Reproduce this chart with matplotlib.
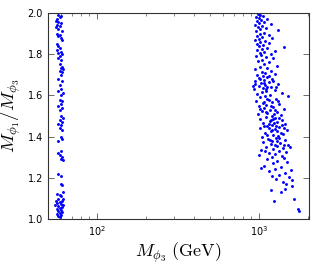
import matplotlib
matplotlib.use("Agg")
import matplotlib.pyplot as plt
from matplotlib.ticker import LogLocator, FixedLocator

# Left cluster (M_phi3 in GeV, ratio)
left_pts = [
    (58,1.99),(60,1.985),(59,1.98),(57,1.97),(56,1.96),(58,1.955),(60,1.95),(57,1.94),(59,1.935),(56,1.93),
    (58,1.92),(61,1.91),(57,1.90),(59,1.895),(58,1.89),(60,1.88),(61,1.87),(57,1.85),(58,1.84),(59,1.83),
    (57,1.82),(60,1.81),(58,1.805),(61,1.80),(59,1.79),(58,1.78),(60,1.77),(59,1.75),(61,1.74),(60,1.735),
    (62,1.73),(59,1.72),(61,1.715),(60,1.70),(58,1.68),(61,1.67),(59,1.65),(60,1.63),(58,1.62),(62,1.61),
    (60,1.60),(59,1.58),(61,1.575),(60,1.56),(58,1.55),(61,1.54),(59,1.53),(60,1.50),(62,1.49),(59,1.48),
    (61,1.47),(58,1.46),(60,1.455),(59,1.44),(61,1.43),(60,1.40),(61,1.39),(58,1.38),(60,1.33),(58,1.32),
    (59,1.31),(61,1.30),(60,1.29),(62,1.285),(58,1.22),(60,1.21),(60,1.17),(61,1.165),(62,1.13),(57,1.12),
    (59,1.115),(60,1.11),(62,1.10),(58,1.10),(56,1.09),(61,1.09),(59,1.085),(57,1.08),(60,1.075),(62,1.07),
    (55,1.07),(58,1.065),(61,1.06),(59,1.055),(57,1.05),(60,1.045),(58,1.04),(61,1.035),(59,1.03),(57,1.025),
    (60,1.02),(58,1.015),(59,1.01),
]

# Right cluster
right_pts = [
    (985,1.995),(1010,1.99),(1060,1.985),(960,1.98),(1000,1.975),(1120,1.97),(1030,1.965),(970,1.96),
    (1080,1.955),(1000,1.95),(1180,1.945),(950,1.94),(1040,1.935),(990,1.93),(1100,1.925),(1010,1.92),
    (1310,1.917),(960,1.91),(1070,1.905),(1020,1.90),(1150,1.895),(980,1.89),(1050,1.885),(1200,1.88),
    (1000,1.875),
    (950,1.87),(1090,1.865),(1020,1.86),(1150,1.855),(980,1.85),(1060,1.845),(1000,1.84),(1430,1.835),
    (1120,1.83),(1040,1.825),(970,1.82),(1250,1.815),(1080,1.81),(1010,1.805),(1180,1.80),
    (1030,1.795),(960,1.79),(1100,1.785),(1230,1.78),(1050,1.77),(990,1.765),(1150,1.76),(1070,1.75),
    (1300,1.745),(1010,1.74),(1120,1.735),(950,1.73),(1190,1.72),(1040,1.715),(1090,1.71),(1260,1.705),
    (980,1.70),
    (1060,1.695),(1130,1.69),(1000,1.685),(1210,1.68),(1080,1.675),(940,1.67),(1150,1.665),(1030,1.66),
    (1320,1.655),(1090,1.65),(1000,1.645),(1180,1.64),(1060,1.635),(930,1.63),(1250,1.625),(1110,1.62),
    (1040,1.615),(1380,1.61),(980,1.605),(1170,1.60),(1070,1.66),(1230,1.67),(1120,1.64),(950,1.655),
    (1010,1.68),(1100,1.63),(1160,1.695),(920,1.645),(1280,1.64),
    (1510,1.597),(1090,1.595),(1020,1.59),(1270,1.585),(1150,1.58),(960,1.575),(1200,1.57),(1060,1.565),
    (1340,1.56),(1110,1.555),(1000,1.55),(1230,1.545),(1080,1.54),(1420,1.535),(1170,1.53),(1040,1.525),
    (1290,1.52),(1130,1.515),(990,1.51),(1360,1.505),(1210,1.50),(1070,1.57),(1180,1.55),(1260,1.53),
    (1130,1.585),(1020,1.535),(1310,1.575),(1240,1.51),(1100,1.52),
    (1100,1.495),(1250,1.49),(1020,1.485),(1380,1.48),(1170,1.475),(1300,1.47),(1060,1.465),(1450,1.46),
    (1200,1.455),(1130,1.45),(1340,1.445),(1010,1.44),(1260,1.435),(1500,1.43),(1180,1.425),(1090,1.42),
    (1400,1.415),(1230,1.41),(1310,1.405),(1050,1.40),(1150,1.46),(1280,1.45),(1210,1.43),(1360,1.42),
    (1120,1.41),(1420,1.44),(1190,1.48),(1330,1.49),(1240,1.465),(1160,1.44),(1290,1.425),(1070,1.45),
    (1380,1.455),(1220,1.485),
    (1270,1.395),(1140,1.39),(1440,1.385),(1210,1.38),(1060,1.375),(1350,1.37),(1180,1.365),(1520,1.36),
    (1290,1.355),(1110,1.35),(1400,1.345),(1230,1.34),(1030,1.335),(1330,1.33),(1470,1.325),(1160,1.32),
    (1260,1.315),(1000,1.31),(1380,1.305),(1200,1.30),(1560,1.35),(1300,1.38),(1090,1.33),(1250,1.36),
    (1170,1.385),(1340,1.395),(1420,1.36),
    (1420,1.295),(1130,1.29),(1300,1.28),(1500,1.275),(1220,1.27),(1080,1.26),(1370,1.255),(1025,1.25),
    (1260,1.245),(1580,1.24),(1160,1.235),(1450,1.225),(1330,1.215),(1200,1.21),(1530,1.205),
    (1280,1.195),(1600,1.19),(1400,1.18),(1470,1.17),(1595,1.16),(1445,1.145),(1185,1.14),(1370,1.13),
    (1644,1.10),(1237,1.087),(1740,1.05),(1760,1.04),
]

pts = left_pts + right_pts
x_vals = [p[0] for p in pts]
y_vals = [p[1] for p in pts]

x_limits = (50, 2040)
y_limits = (1.0, 2.0)
y_ticks = [1.0, 1.2, 1.4, 1.6, 1.8, 2.0]

fig = plt.figure(figsize=(3.17, 2.64), dpi=100)
ax = fig.add_axes([0.151, 0.170, 0.824, 0.781])
ax.plot(x_vals, y_vals, 'o', color='blue', ms=2.1, mec='none')
ax.set_xscale('log')
ax.set_xlim(*x_limits)
ax.set_ylim(*y_limits)
ax.yaxis.set_major_locator(FixedLocator(y_ticks))
ax.set_yticklabels([f"{t:.1f}" for t in y_ticks])
ax.xaxis.set_major_locator(LogLocator(base=10))
ax.xaxis.set_minor_locator(LogLocator(base=10, subs=range(2, 10)))
ax.tick_params(which='both', direction='in', top=True, right=True, labelsize=7, color='#555555')
ax.tick_params(which='major', length=4, width=0.6)
ax.tick_params(which='minor', length=2, width=0.5)
for s in ax.spines.values():
    s.set_linewidth(0.8)
    s.set_color('#333333')
ax.set_xlabel(r'$M_{\phi_3}\ \mathrm{(GeV)}$', fontsize=13, math_fontfamily='cm', labelpad=2)
ax.set_ylabel(r'$M_{\phi_1}/M_{\phi_3}$', fontsize=13.5, math_fontfamily='cm', labelpad=3)
fig.savefig('out.png', dpi=100)
